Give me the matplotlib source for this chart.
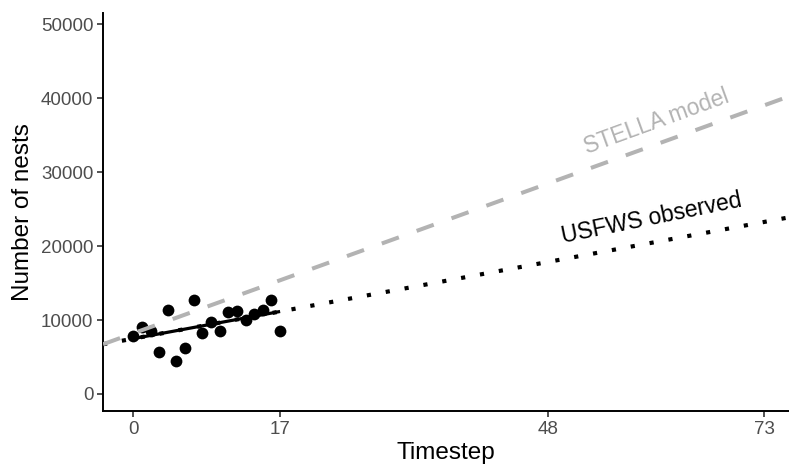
import matplotlib
matplotlib.use("Agg")
import matplotlib.pyplot as plt
import numpy as np

plt.rcParams['font.family'] = ['Liberation Sans', 'DejaVu Sans']

# Observed nest counts (USFWS)
timestep = [0, 1, 2, 3, 4, 5, 6, 7, 8, 9, 10, 11, 12, 13, 14, 15, 16, 17]
nests = [7880, 9100, 8450, 5720, 11350, 4500, 6180, 12700, 8200, 9770,
         8510, 11120, 11260, 10000, 10810, 11350, 12700, 8510]

# Trend lines (intercept, slope per timestep)
obs_intercept, obs_slope = 7480, 216
stella_intercept, stella_slope = 8200, 422

x_ticks = [0, 17, 48, 73]
y_ticks = [0, 10000, 20000, 30000, 40000, 50000]

fig = plt.figure(figsize=(7.89, 4.71), dpi=100)
ax = fig.add_axes([103/789, 60/471, (789-103)/789, 398/471])

xlim = (-3.5, 75.9)
ylim = (-2300, 51500)

# dotted extension of observed trend
xx = np.array(xlim)
ax.plot(xx, obs_intercept + obs_slope * xx, color='black', lw=3.0,
        linestyle=(0, (1, 3.6)), dash_capstyle='butt', zorder=2)

# points
ax.scatter(timestep, nests, s=72, color='black', zorder=3, linewidths=0)

# fitted solid segment over observed range
xs = np.array([min(timestep), max(timestep)])
ax.plot(xs, obs_intercept + obs_slope * xs, color='black', lw=2.3,
        solid_capstyle='butt', zorder=4)

# STELLA model dashed
ax.plot(xx, stella_intercept + stella_slope * xx, color='#B3B3B3', lw=2.9,
        linestyle=(0, (4.5, 4.7)), dash_capstyle='butt', zorder=5)

ax.text(60.6, 36760, 'STELLA model', color='#B3B3B3', fontsize=16.5,
        rotation=20, ha='center', va='center', rotation_mode='anchor')
ax.text(60.0, 23780, 'USFWS observed', color='black', fontsize=16.5,
        rotation=11.5, ha='center', va='center', rotation_mode='anchor')

ax.set_xlim(*xlim)
ax.set_ylim(*ylim)
ax.set_xticks(x_ticks)
ax.set_yticks(y_ticks)
ax.set_xticklabels([str(v) for v in x_ticks])
ax.set_yticklabels([str(v) for v in y_ticks])

for s in ['top', 'right']:
    ax.spines[s].set_visible(False)
for s in ['left', 'bottom']:
    ax.spines[s].set_linewidth(1.4)
    ax.spines[s].set_color('black')

ax.tick_params(axis='both', length=4, width=1.2, color='#333333',
               labelcolor='#4D4D4D', labelsize=13.5, pad=3)

ax.set_xlabel('Timestep', fontsize=17.5, color='black', labelpad=3)
ax.set_ylabel('Number of nests', fontsize=17.5, color='black', labelpad=5)

fig.savefig('out.png', dpi=100)
